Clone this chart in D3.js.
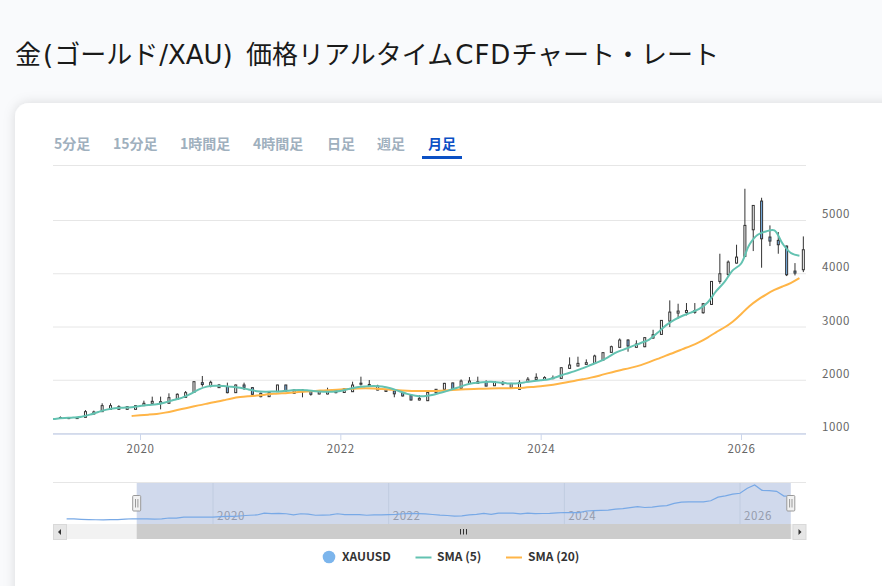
<!DOCTYPE html>
<html lang="ja"><head><meta charset="utf-8">
<script src="https://cdn.jsdelivr.net/npm/d3@7"></script>
<style>
html,body{margin:0;padding:0;width:882px;height:586px;overflow:hidden;background:#f9fafc;}
svg{position:absolute;left:0;top:0;display:block;}
text{font-family:"Noto Sans CJK JP","Noto Sans",sans-serif;}
</style></head><body>
<svg id="c" width="882" height="586"></svg>
<script>
const titleParts = ["金","(","ゴールド","/XAU) ","価格リアルタイム","C","F","D","チャート・レート"];
const titleGaps = [0,2,1,1,5,2,1,1,1];
const tabLabels = ["5分足","15分足","1時間足","4時間足","日足","週足","月足"];
const tabLefts = [54,113,180,253,327,377,428];
const legendLabels = ["XAUUSD","SMA (5)","SMA (20)"];
const yTicks = [1000,2000,3000,4000,5000];
const yearTicks = [2020,2022,2024,2026];
// months counted from 2020-01 = 0; candles start 2019-03
const firstCandleMonth = -10;
const opens = [1290,1290,1280,1304,1366,1410,1454,1454,1454,1454,
 1523,1567,1567,1567,1642,1679,1773,1955,1892,1861,1880,1767,
 1911,1861,1692,1692,1786,1911,1754,1786,1805,1742,1742,1767,
 1770,1785,1925,1890,1816,1790,1800,1765,1722,1629,1616,1765,
 1830,1950,1848,1942,1942,1960,1897,1960,1860,1830,1973,2015,
 2015,2030,2035,2223,2267,2298,2317,2380,2524,2618,2755,2618,
 2630,2792,2861,3111,3261,3274,3275,3268,3424,3856,3988,4200,
 4326,4826,5365,4689,4626,4520,4050,4075];
const closes = [1300,1280,1300,1410,1404,1523,1523,1504,1504,1523,
 1567,1604,1598,1673,1736,1767,1973,1920,1961,1911,1767,1911,
 1867,1736,1754,1773,1911,1798,1817,1817,1736,1786,1786,1817,
 1840,1910,1945,1920,1890,1820,1745,1705,1629,1660,1772,1830,
 1942,1835,1985,1985,1973,1890,1973,1930,1940,1960,2020,2055,
 2050,2045,2235,2286,2317,2330,2455,2518,2630,2755,2643,2680,
 2800,2855,3124,3280,3299,3310,3310,3437,3856,4000,4219,4313,
 4908,5283,4657,4614,4545,3981,4013,4451];
const highs = [1320,1295,1305,1440,1429,1567,1567,1530,1515,1530,
 1617,1692,1692,1754,1754,1798,1980,2080,1992,1930,1955,1920,
 1955,1870,1770,1780,1915,1915,1825,1830,1817,1795,1860,1830,
 1850,1973,2067,2004,1915,1835,1810,1775,1730,1722,1785,1835,
 1950,1955,2015,2060,2067,2000,1985,1985,1950,2000,2060,2130,
 2075,2090,2245,2430,2442,2392,2480,2530,2650,2785,2770,2750,
 2810,2948,3130,3500,3437,3450,3450,3450,3860,4376,4250,4545,
 5596,5290,5427,4908,4783,4530,4200,4701];
const lows = [1280,1270,1275,1300,1360,1405,1450,1450,1450,1450,
 1516,1560,1454,1560,1630,1670,1770,1880,1867,1855,1754,1760,
 1817,1730,1680,1685,1780,1790,1745,1679,1710,1735,1735,1755,
 1760,1780,1900,1880,1810,1780,1680,1695,1620,1620,1610,1760,
 1825,1830,1840,1935,1935,1885,1890,1905,1850,1820,1965,2010,
 2005,2020,2030,2215,2260,2290,2310,2370,2515,2610,2536,2610,
 2620,2780,2850,3000,3155,3218,3249,3250,3415,3812,3938,4190,
 4320,4426,4113,4520,4376,3956,3969,4031];
// SMA lines; 5 starts 2019-02, 20 starts 2019-12
const sma5Start = -11;
const sma5 = [1262,1278,1290,1300,1316,1354,1404,1448,1476,1485,1495,
 1516,1535,1548,1582,1629,1670,1739,1824,1880,1898,1892,1876,
 1858,1826,1795,1786,1789,1795,1808,1817,1811,1795,1786,1786,
 1798,1835,1870,1885,1891,1882,1851,1798,1744,1710,1700,1722,
 1766,1810,1860,1913,1948,1964,1970,1960,1941,1941,1958,1980,
 1998,2020,2066,2120,2167,2224,2286,2349,2427,2520,2580,2640,
 2700,2765,2890,3030,3133,3212,3271,3340,3460,3668,3843,4063,
 4188,4545,4733,4795,4814,4560,4388,4338];
const sma20Start = -1;
const sma20 = [1329,
 1341,1354,1366,1391,1423,1460,1491,1529,1560,1592,1623,1660,
 1686,1698,1711,1729,1748,1754,1767,1780,1792,1798,1811,1817,
 1823,1835,1848,1854,1848,1835,1823,1810,1804,1798,1798,1798,
 1804,1810,1823,1829,1835,1841,1848,1848,1848,1854,1860,1873,
 1885,1904,1929,1960,1985,2017,2048,2085,2129,2173,2204,2242,
 2280,2340,2400,2465,2520,2585,2645,2715,2798,2905,2986,3093,
 3236,3399,3512,3612,3700,3762,3825,3919];
// navigator history before the candles (2018-04 .. 2019-02)
const navPastStart = -21;
const navPast = [1315,1300,1255,1225,1205,1190,1215,1225,1280,1320,1315];

const colTeal="#63c2b1", colOrange="#ffb547", colBlue="#7cb5ec";
const svg=d3.select("#c");

// page + card
const defs=svg.append("defs");
const f=defs.append("filter").attr("id","sh").attr("x","-5%").attr("y","-5%").attr("width","110%").attr("height","110%");
f.append("feDropShadow").attr("dx",0).attr("dy",0).attr("stdDeviation",6).attr("flood-color","#000").attr("flood-opacity",0.13);
svg.append("text").attr("x",15).attr("y",64).attr("font-size",26).attr("fill","#1a1a1a")
 .style("font-family","'DejaVu Sans','Noto Sans CJK JP',sans-serif").style("white-space","pre")
 .selectAll("tspan").data(titleParts).join("tspan").attr("dx",(d,i)=>titleGaps[i]).text(d=>d);
svg.append("rect").attr("x",15).attr("y",103).attr("width",950).attr("height",560).attr("rx",14).attr("fill","#fff").attr("filter","url(#sh)");

// tabs
svg.selectAll(".tab").data(tabLabels).join("text").attr("class","tab")
 .attr("x",(d,i)=>tabLefts[i]).attr("y",148.5).attr("font-size",14).attr("font-weight",700)
 .attr("fill",(d,i)=>i===6?"#0b50c4":"#9fb0be").text(d=>d);
svg.append("rect").attr("x",422).attr("y",156).attr("width",40).attr("height",3).attr("fill","#0b50c4");
svg.append("line").attr("x1",53).attr("x2",806).attr("y1",165.5).attr("y2",165.5).attr("stroke","#e6e6e6");

// scales
const x=d3.scaleLinear().domain([0,72]).range([140,741]);
const candleOffset=3.9;
const y=d3.scaleLinear().domain([1000,5000]).range([433.5,220.5]);
defs.append("clipPath").attr("id","pl").append("rect").attr("x",53).attr("y",166).attr("width",753).attr("height",268);

// grid
svg.append("g").selectAll("line").data(yTicks).join("line")
 .attr("x1",53).attr("x2",806).attr("y1",d=>y(d)).attr("y2",d=>y(d)).attr("stroke","#e6e6e6");

// axes
const yearIdx=yearTicks.map(v=>(v-2020)*12);
const xAxis=svg.append("g").attr("transform","translate(0,434)")
 .call(d3.axisBottom(x).tickValues(yearIdx).tickFormat((d,i)=>yearTicks[i]).tickSize(6).tickPadding(5));
xAxis.select(".domain").remove();
xAxis.selectAll("line").attr("stroke","#ccd6eb");
xAxis.selectAll("text").attr("font-size",11.5).attr("fill","#666").attr("letter-spacing",0.6).attr("font-family","'Noto Sans',sans-serif");
svg.append("line").attr("x1",53).attr("x2",806).attr("y1",434).attr("y2",434).attr("stroke","#ccd6eb").attr("stroke-width",1.5);
const yAxis=svg.append("g").attr("transform","translate(822,-6.5)")
 .call(d3.axisRight(y).tickValues(yTicks).tickFormat(d3.format("d")).tickSize(0).tickPadding(0));
yAxis.select(".domain").remove();
yAxis.selectAll("text").attr("font-size",11.5).attr("fill","#666").attr("letter-spacing",0.6).attr("font-family","'Noto Sans',sans-serif");

// candles
const plot=svg.append("g").attr("clip-path","url(#pl)");
const candles=opens.map((o,i)=>({m:firstCandleMonth+i,o,c:closes[i],h:highs[i],l:lows[i]}));
const cx=d=>x(d.m)+candleOffset;
const cg=plot.append("g");
cg.selectAll(".wick").data(candles).join("line").attr("class","wick")
 .attr("x1",cx).attr("x2",cx).attr("y1",d=>y(d.h)).attr("y2",d=>y(d.l)).attr("stroke","#333").attr("stroke-width",1);
cg.selectAll(".body").data(candles).join("rect").attr("class","body")
 .attr("x",d=>cx(d)-1).attr("width",2)
 .attr("y",d=>y(Math.max(d.o,d.c))).attr("height",d=>Math.abs(y(d.o)-y(d.c)))
 .attr("fill",d=>d.c>=d.o?"#fff":colBlue).attr("stroke","#333").attr("stroke-width",1);

// SMA lines
const ln=(start,curve)=>d3.line().x((d,i)=>x(start+i)).y(d=>y(d)).curve(curve);
plot.append("path").attr("d",ln(sma20Start,d3.curveBasis)(sma20)).attr("fill","none").attr("stroke",colOrange).attr("stroke-width",2);
plot.append("path").attr("d",ln(sma5Start,d3.curveCatmullRom.alpha(0.5))(sma5)).attr("fill","none").attr("stroke",colTeal).attr("stroke-width",2);

// navigator
const navX=d3.scaleLinear().domain([0,72]).range([213,740]);
const navY=d3.scaleLinear().domain([1000,5283]).range([521.5,485]);
const navSeries=navPast.map((v,i)=>({m:navPastStart+i,v})).concat(closes.map((v,i)=>({m:firstCandleMonth+i,v})));
const navLeft=136.7, navRight=790.8;
svg.append("line").attr("x1",53).attr("x2",806).attr("y1",482.5).attr("y2",482.5).attr("stroke","#e6e6e6");
svg.append("rect").attr("x",navLeft).attr("y",483).attr("width",navRight-navLeft).attr("height",41).attr("fill","#d0d9ec");
svg.append("g").selectAll("line").data(yearIdx).join("line")
 .attr("x1",d=>navX(d)).attr("x2",d=>navX(d)).attr("y1",483).attr("y2",524).attr("stroke","#c0cce0");
svg.append("g").selectAll("text").data(yearIdx).join("text")
 .attr("x",d=>navX(d)+4).attr("y",520).attr("font-size",11.5).attr("fill","#959cad").attr("letter-spacing",0.6)
 .attr("font-family","'Noto Sans',sans-serif").text((d,i)=>yearTicks[i]);
defs.append("clipPath").attr("id","nv").append("rect").attr("x",53).attr("y",483).attr("width",navRight-53).attr("height",41);
svg.append("path").attr("clip-path","url(#nv)")
 .attr("d",d3.line().x(d=>navX(d.m+1)).y(d=>navY(d.v))(navSeries))
 .attr("fill","none").attr("stroke","#78a9e6").attr("stroke-width",1.2);

// scrollbar
svg.append("rect").attr("x",53).attr("y",524).attr("width",753).attr("height",15).attr("fill","#f2f2f2");
svg.append("rect").attr("x",navLeft).attr("y",524).attr("width",navRight-navLeft).attr("height",15).attr("fill","#cccccc");
[[53,-1],[792.5,1]].forEach(([bx,dir])=>{
 svg.append("rect").attr("x",bx+.5).attr("y",524.5).attr("width",13).attr("height",15).attr("fill","#e6e6e6").attr("stroke","#d9d9d9");
 const c=bx+7;
 svg.append("path").attr("d",`M${c+dir*2},532 L${c-dir*1},529 L${c-dir*1},535 Z`).attr("fill","#333");
});
[-3,0,3].forEach(o=>svg.append("line").attr("x1",463.5+o).attr("x2",463.5+o).attr("y1",529).attr("y2",534.5).attr("stroke","#333"));
[navLeft,navRight].forEach(hx=>{
 svg.append("rect").attr("x",hx-4).attr("y",495.5).attr("width",8).attr("height",15.5).attr("rx",1).attr("fill","#f2f2f2").attr("stroke","#999");
 [-1.2,1.2].forEach(o=>svg.append("line").attr("x1",hx+o).attr("x2",hx+o).attr("y1",499).attr("y2",507.5).attr("stroke","#999"));
});

// legend
svg.append("circle").attr("cx",329).attr("cy",557).attr("r",6.3).attr("fill",colBlue);
svg.append("line").attr("x1",415.5).attr("x2",431.5).attr("y1",557.5).attr("y2",557.5).attr("stroke",colTeal).attr("stroke-width",2);
svg.append("line").attr("x1",506).attr("x2",522).attr("y1",557.5).attr("y2",557.5).attr("stroke",colOrange).attr("stroke-width",2);
svg.selectAll(".lg").data(legendLabels).join("text").attr("class","lg")
 .attr("x",(d,i)=>[342,437,528][i]).attr("y",561).attr("font-size",12).attr("font-weight",700)
 .attr("fill","#333").attr("font-family","'Noto Sans',sans-serif").text(d=>d);
</script></body></html>
